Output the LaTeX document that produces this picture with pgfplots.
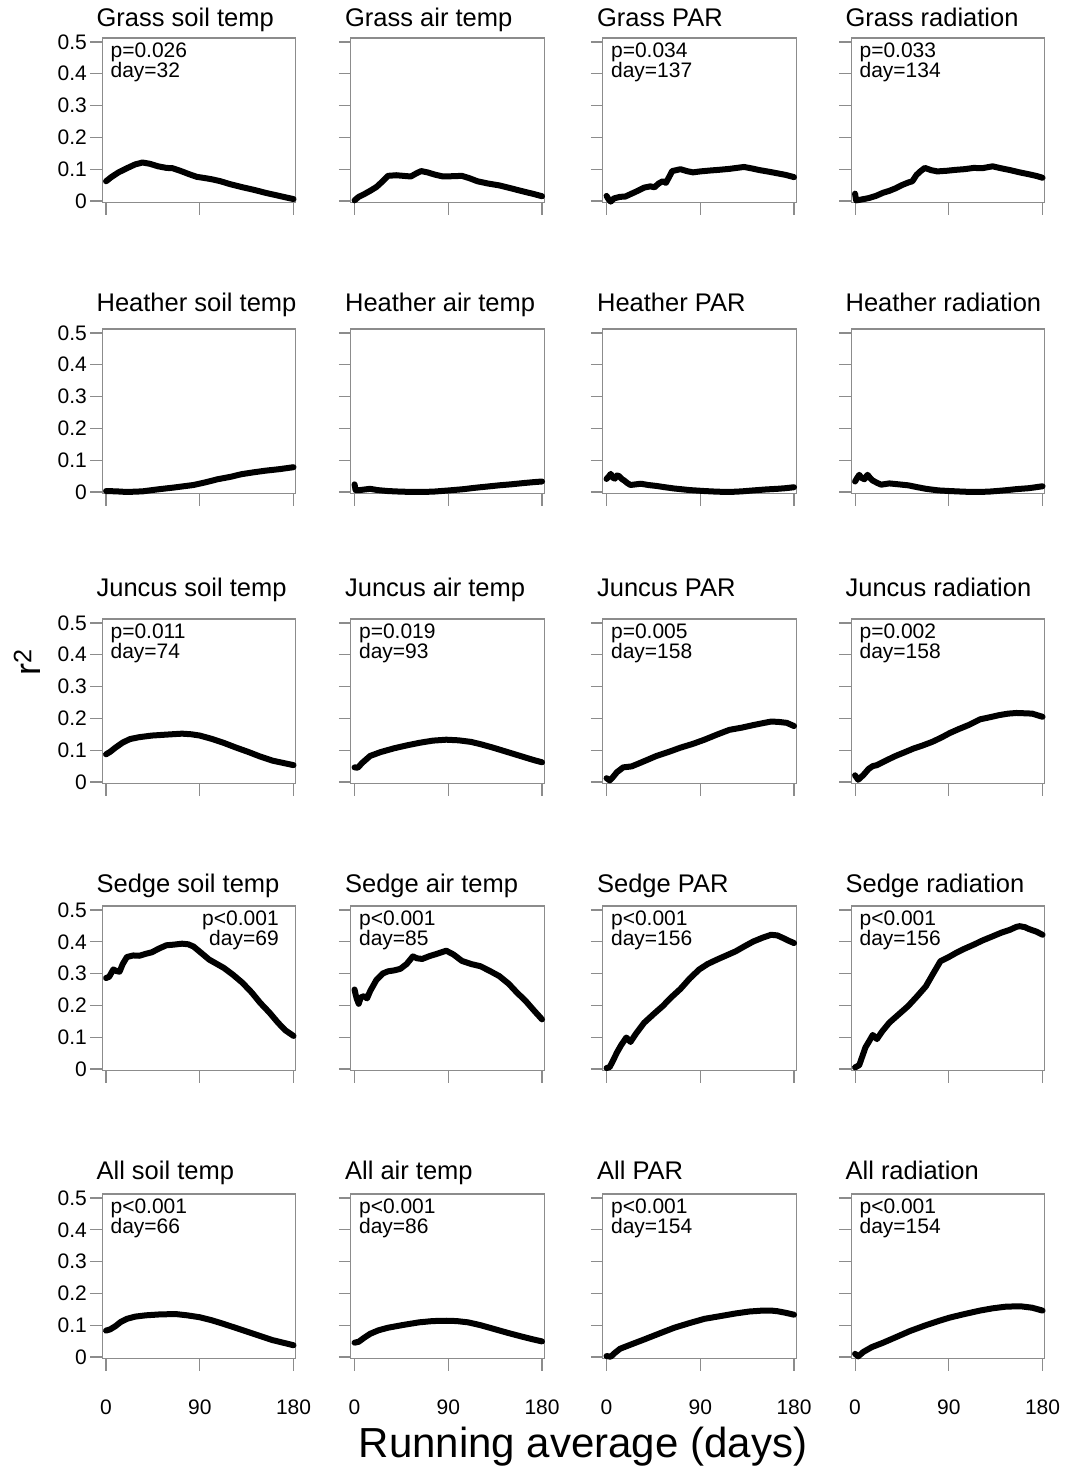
\documentclass[border=0pt]{standalone}
\usepackage{fontspec}
\setmainfont{Liberation Sans}
\usepackage{pgfplots}
\pgfplotsset{compat=1.18}

\newcommand{\ttlfont}{\fontsize{25.5}{25.5}\selectfont}
\newcommand{\annfont}{\fontsize{21}{21}\selectfont}
\newcommand{\tickfont}{\fontsize{21}{21}\selectfont}

% panel title, left aligned just outside the box (optional: height above box)
\newcommand{\ttl}[2][11pt]{\node[anchor=base west, inner sep=0pt, font=\ttlfont, xshift=-6pt, yshift=#1] at (rel axis cs:0,1) {#2};}
% p value and day, top left inside the box
\newcommand{\ann}[2]{%
  \node[anchor=base west, inner sep=0pt, font=\annfont, xshift=8pt, yshift=-19.3pt] at (rel axis cs:0,1) {#1};
  \node[anchor=base west, inner sep=0pt, font=\annfont, xshift=8pt, yshift=-39.3pt] at (rel axis cs:0,1) {#2};}
% same, right aligned
\newcommand{\annr}[2]{%
  \node[anchor=base east, inner sep=0pt, font=\annfont, xshift=-16.7pt, yshift=-19.3pt] at (rel axis cs:1,1) {#1};
  \node[anchor=base east, inner sep=0pt, font=\annfont, xshift=-16.7pt, yshift=-39.3pt] at (rel axis cs:1,1) {#2};}

\pgfplotsset{
  panel/.style={scale only axis, width=193.2pt, height=164.6pt,
    xmin=-3.5, xmax=182, ymin=-0.005, ymax=0.5125,
    axis line style={black!45, line width=1.1pt},
    tick style={black!45, line width=1.1pt},
    tick align=outside, major tick length=12pt,
    xtick={0,90,180}, ytick={0,0.1,0.2,0.3,0.4,0.5},
    xtick pos=left, ytick pos=left,
    xticklabels={}, yticklabels={},
    ticklabel style={font=\tickfont},
    clip=false, anchor=south west},
  ylab/.style={yticklabels={0,0.1,0.2,0.3,0.4,0.5}},
  xlab/.style={xticklabels={0,90,180}, xticklabel style={anchor=base, yshift=-44pt}},
  curve/.style={black, line width=6pt, line join=round, line cap=round, mark=none},
}

\begin{document}
\begin{tikzpicture}
\useasboundingbox (0,0) rectangle (1066pt,1474pt);

% ---- row 1: Grass
\begin{axis}[panel, ylab, at={(102.4pt,1271.4pt)}]
\addplot[curve] coordinates {(0,0.062)(5,0.075)(12,0.09)(20,0.103)(28,0.115)(35,0.121)(42,0.117)(50,0.109)(58,0.104)(64,0.103)(72,0.094)(80,0.084)(87,0.076)(95,0.072)(102,0.068)(110,0.062)(119,0.053)(130,0.044)(142,0.035)(154,0.025)(165,0.017)(173,0.011)(180,0.006)};
\ttl{Grass soil temp}
\ann{p=0.026}{day=32}
\end{axis}

\begin{axis}[panel, at={(350.9pt,1271.4pt)}]
\addplot[curve] coordinates {(0,0.002)(4,0.013)(9,0.021)(15,0.032)(21,0.044)(27,0.062)(32,0.079)(40,0.081)(47,0.079)(54,0.077)(60,0.088)(64,0.094)(70,0.09)(77,0.083)(85,0.077)(95,0.078)(103,0.079)(110,0.072)(118,0.062)(128,0.055)(139,0.049)(150,0.04)(162,0.03)(172,0.022)(180,0.015)};
\ttl{Grass air temp}
\end{axis}

\begin{axis}[panel, at={(602.9pt,1271.4pt)}]
\addplot[curve] coordinates {(0,0.016)(2,0.005)(4,-0.002)(7,0.008)(13,0.013)(18,0.014)(24,0.023)(30,0.032)(36,0.042)(42,0.046)(46,0.043)(50,0.055)(54,0.062)(57,0.057)(60,0.075)(63,0.094)(67,0.097)(71,0.1)(77,0.094)(83,0.09)(90,0.093)(100,0.096)(108,0.098)(118,0.101)(125,0.104)(132,0.107)(140,0.102)(147,0.097)(156,0.092)(164,0.087)(172,0.082)(180,0.075)};
\ttl{Grass PAR}
\ann{p=0.034}{day=137}
\end{axis}

\begin{axis}[panel, at={(851.4pt,1271.4pt)}]
\addplot[curve] coordinates {(0,0.023)(1,0.002)(5,0.004)(13,0.009)(20,0.016)(27,0.026)(33,0.032)(39,0.04)(45,0.05)(51,0.058)(55,0.062)(59,0.082)(63,0.094)(67,0.104)(73,0.097)(79,0.093)(88,0.095)(97,0.098)(105,0.1)(114,0.104)(122,0.103)(132,0.109)(140,0.103)(149,0.097)(158,0.09)(167,0.084)(175,0.078)(180,0.073)};
\ttl{Grass radiation}
\ann{p=0.033}{day=134}
\end{axis}

% ---- row 2: Heather
\begin{axis}[panel, ylab, at={(102.4pt,980.4pt)}]
\addplot[curve] coordinates {(0,0.003)(10,0.002)(20,0.0)(35,0.002)(49,0.008)(65,0.014)(84,0.022)(95,0.03)(107,0.04)(120,0.048)(130,0.056)(142,0.062)(153,0.067)(167,0.072)(180,0.078)};
\ttl[17pt]{Heather soil temp}
\end{axis}

\begin{axis}[panel, at={(350.9pt,980.4pt)}]
\addplot[curve] coordinates {(0,0.024)(1,0.006)(5,0.006)(10,0.008)(15,0.01)(22,0.006)(32,0.003)(45,0.001)(60,0.0)(75,0.001)(91,0.005)(105,0.009)(115,0.013)(127,0.017)(139,0.021)(150,0.024)(162,0.028)(172,0.031)(180,0.033)};
\ttl[17pt]{Heather air temp}
\end{axis}

\begin{axis}[panel, at={(602.9pt,980.4pt)}]
\addplot[curve] coordinates {(0,0.041)(2,0.048)(4,0.057)(6,0.045)(8,0.042)(10,0.052)(12,0.05)(15,0.04)(17,0.036)(20,0.028)(23,0.022)(28,0.024)(33,0.026)(40,0.022)(48,0.019)(56,0.015)(65,0.011)(80,0.006)(94,0.003)(106,0.001)(118,0.0)(130,0.002)(141,0.005)(153,0.008)(164,0.01)(172,0.012)(180,0.015)};
\ttl[17pt]{Heather PAR}
\end{axis}

\begin{axis}[panel, at={(851.4pt,980.4pt)}]
\addplot[curve] coordinates {(0,0.033)(2,0.044)(4,0.054)(6,0.045)(9,0.04)(11,0.05)(12,0.054)(15,0.042)(17,0.036)(21,0.029)(25,0.023)(29,0.025)(33,0.027)(42,0.024)(51,0.021)(60,0.015)(68,0.01)(80,0.005)(91,0.003)(104,0.001)(114,0.0)(128,0.001)(143,0.005)(155,0.009)(167,0.012)(180,0.018)};
\ttl[17pt]{Heather radiation}
\end{axis}

% ---- row 3: Juncus
\begin{axis}[panel, ylab, at={(102.4pt,690.4pt)}]
\addplot[curve] coordinates {(0,0.087)(4,0.095)(9,0.108)(16,0.124)(23,0.135)(32,0.141)(44,0.146)(58,0.149)(73,0.152)(82,0.15)(90,0.146)(101,0.136)(113,0.123)(125,0.108)(137,0.094)(148,0.08)(160,0.067)(170,0.06)(180,0.053)};
\ttl[22pt]{Juncus soil temp}
\ann{p=0.011}{day=74}
\end{axis}

\begin{axis}[panel, at={(350.9pt,690.4pt)}]
\addplot[curve] coordinates {(0,0.046)(3,0.045)(8,0.062)(15,0.082)(25,0.094)(38,0.106)(50,0.115)(62,0.123)(75,0.13)(88,0.133)(100,0.131)(112,0.126)(122,0.118)(133,0.108)(147,0.094)(162,0.079)(172,0.069)(180,0.062)};
\ttl[22pt]{Juncus air temp}
\ann{p=0.019}{day=93}
\end{axis}

\begin{axis}[panel, at={(602.9pt,690.4pt)}]
\addplot[curve] coordinates {(0,0.012)(3,0.005)(6,0.015)(10,0.031)(16,0.046)(24,0.049)(30,0.057)(38,0.068)(48,0.082)(60,0.095)(71,0.108)(83,0.12)(94,0.133)(106,0.149)(118,0.164)(130,0.171)(141,0.179)(150,0.185)(158,0.19)(165,0.189)(173,0.186)(180,0.176)};
\ttl[22pt]{Juncus PAR}
\ann{p=0.005}{day=158}
\end{axis}

\begin{axis}[panel, at={(851.4pt,690.4pt)}]
\addplot[curve] coordinates {(0,0.021)(3,0.007)(8,0.022)(13,0.041)(17,0.05)(21,0.053)(30,0.068)(39,0.082)(48,0.094)(56,0.105)(65,0.115)(74,0.126)(83,0.14)(91,0.154)(100,0.167)(109,0.179)(120,0.197)(130,0.204)(138,0.21)(147,0.215)(155,0.217)(163,0.216)(170,0.215)(180,0.205)};
\ttl[22pt]{Juncus radiation}
\ann{p=0.002}{day=158}
\end{axis}

% ---- row 4: Sedge
\begin{axis}[panel, ylab, at={(102.4pt,403.4pt)}]
\addplot[curve] coordinates {(0,0.286)(3,0.29)(7,0.313)(10,0.308)(13,0.306)(16,0.33)(20,0.352)(26,0.357)(32,0.356)(38,0.362)(44,0.367)(51,0.379)(58,0.389)(65,0.391)(73,0.394)(79,0.392)(84,0.385)(91,0.366)(99,0.344)(106,0.331)(113,0.318)(122,0.296)(131,0.271)(140,0.24)(148,0.208)(157,0.177)(165,0.146)(172,0.122)(180,0.104)};
\ttl[13pt]{Sedge soil temp}
\annr{p<0.001}{day=69}
\end{axis}

\begin{axis}[panel, at={(350.9pt,403.4pt)}]
\addplot[curve] coordinates {(0,0.25)(1,0.235)(2,0.222)(4,0.205)(6,0.225)(9,0.229)(12,0.222)(15,0.245)(21,0.28)(27,0.3)(32,0.307)(38,0.31)(44,0.315)(50,0.33)(56,0.354)(60,0.348)(65,0.346)(72,0.355)(80,0.363)(88,0.372)(95,0.36)(103,0.34)(112,0.33)(121,0.323)(130,0.308)(139,0.292)(148,0.268)(156,0.24)(164,0.215)(172,0.185)(180,0.156)};
\ttl[13pt]{Sedge air temp}
\ann{p<0.001}{day=85}
\end{axis}

\begin{axis}[panel, at={(602.9pt,403.4pt)}]
\addplot[curve] coordinates {(0,0.003)(3,0.006)(6,0.025)(10,0.052)(14,0.075)(19,0.099)(23,0.085)(28,0.11)(36,0.145)(45,0.172)(54,0.198)(62,0.225)(71,0.252)(80,0.285)(89,0.313)(97,0.33)(106,0.344)(115,0.357)(124,0.37)(132,0.385)(141,0.401)(150,0.413)(158,0.422)(164,0.42)(170,0.411)(175,0.403)(180,0.396)};
\ttl[13pt]{Sedge PAR}
\ann{p<0.001}{day=156}
\end{axis}

\begin{axis}[panel, at={(851.4pt,403.4pt)}]
\addplot[curve] coordinates {(0,0.005)(4,0.012)(7,0.04)(10,0.068)(14,0.09)(17,0.107)(21,0.094)(26,0.118)(33,0.146)(42,0.172)(51,0.198)(60,0.23)(68,0.26)(75,0.3)(82,0.339)(90,0.352)(97,0.365)(105,0.378)(114,0.391)(123,0.405)(132,0.417)(140,0.428)(149,0.438)(155,0.447)(158,0.449)(163,0.446)(167,0.44)(174,0.432)(180,0.422)};
\ttl[13pt]{Sedge radiation}
\ann{p<0.001}{day=156}
\end{axis}

% ---- row 5: All
\begin{axis}[panel, ylab, xlab, at={(102.4pt,115.4pt)}]
\addplot[curve] coordinates {(0,0.083)(4,0.087)(9,0.097)(14,0.11)(20,0.12)(28,0.127)(38,0.131)(52,0.134)(67,0.135)(78,0.131)(90,0.125)(101,0.116)(113,0.104)(125,0.091)(137,0.078)(149,0.065)(160,0.053)(170,0.045)(180,0.037)};
\ttl[14pt]{All soil temp}
\ann{p<0.001}{day=66}
\end{axis}

\begin{axis}[panel, xlab, at={(350.9pt,115.4pt)}]
\addplot[curve] coordinates {(0,0.045)(4,0.048)(9,0.06)(15,0.073)(23,0.084)(32,0.092)(47,0.101)(62,0.109)(75,0.113)(88,0.114)(98,0.113)(109,0.109)(121,0.1)(133,0.089)(147,0.076)(162,0.063)(172,0.055)(180,0.049)};
\ttl[14pt]{All air temp}
\ann{p<0.001}{day=86}
\end{axis}

\begin{axis}[panel, xlab, at={(602.9pt,115.4pt)}]
\addplot[curve] coordinates {(0,0.003)(4,0.001)(8,0.013)(13,0.026)(24,0.04)(36,0.055)(50,0.073)(65,0.092)(80,0.107)(94,0.12)(110,0.129)(124,0.137)(137,0.143)(150,0.146)(158,0.146)(164,0.144)(172,0.139)(180,0.133)};
\ttl[14pt]{All PAR}
\ann{p<0.001}{day=154}
\end{axis}

\begin{axis}[panel, xlab, at={(851.4pt,115.4pt)}]
\addplot[curve] coordinates {(0,0.01)(3,0.002)(8,0.016)(16,0.031)(27,0.045)(39,0.062)(53,0.082)(68,0.1)(80,0.113)(91,0.124)(105,0.135)(120,0.146)(132,0.153)(144,0.158)(152,0.159)(160,0.159)(170,0.155)(180,0.146)};
\ttl[14pt]{All radiation}
\ann{p<0.001}{day=154}
\end{axis}

% shared axis titles
\node[rotate=90, font=\fontsize{36}{36}\selectfont] at (27pt,812pt) {r\textsuperscript{2}};
\node[font=\fontsize{42}{42}\selectfont] at (583pt,27pt) {Running average (days)};
\end{tikzpicture}
\end{document}
